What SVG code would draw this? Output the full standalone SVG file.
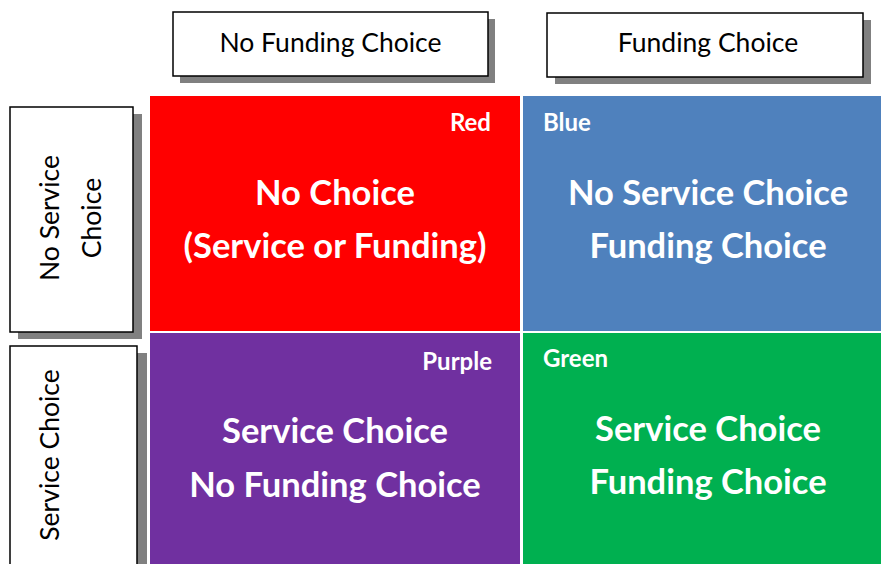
<svg xmlns="http://www.w3.org/2000/svg" width="881" height="564" viewBox="0 0 881 564">
<style>
.sh{fill:#808080}
.box{fill:#fff;stroke:#000;stroke-width:1.5}
.hd{font-family:"Lato","Open Sans",sans-serif;font-size:26.5px;fill:#000;text-anchor:middle}
.big{font-family:"Lato","Open Sans",sans-serif;font-size:34.5px;font-weight:bold;fill:#fff;text-anchor:middle}
.lbl{font-family:"Lato","Open Sans",sans-serif;font-size:24px;font-weight:bold;fill:#fff}
</style>
<rect width="881" height="564" fill="#fff"/>
<g id="hdr-nofunding">
<rect class="sh" x="180" y="19" width="315" height="64"/>
<rect class="box" x="173" y="12" width="315" height="64"/>
<text class="hd" x="330.5" y="52">No Funding Choice</text>
</g>
<g id="hdr-funding">
<rect class="sh" x="555" y="20" width="316" height="64"/>
<rect class="box" x="547" y="13" width="316" height="64"/>
<text class="hd" x="708" y="52">Funding Choice</text>
</g>
<g id="side-noservice">
<rect class="sh" x="18" y="114" width="124" height="225"/>
<rect class="box" x="10" y="107" width="123" height="225"/>
<text class="hd" transform="translate(59,218) rotate(-90)">No Service</text>
<text class="hd" transform="translate(101,218) rotate(-90)">Choice</text>
</g>
<g id="side-service">
<rect class="sh" x="19" y="353" width="128" height="220"/>
<rect class="box" x="10" y="346" width="127" height="225"/>
<text class="hd" transform="translate(59,455) rotate(-90)">Service Choice</text>
</g>
<g id="cell-red">
<rect x="150" y="96" width="370" height="235" fill="#FF0000"/>
<text class="lbl" x="491" y="131" text-anchor="end">Red</text>
<text class="big" x="335" y="205">No Choice</text>
<text class="big" x="335" y="258">(Service or Funding)</text>
</g>
<g id="cell-blue">
<rect x="523" y="96" width="358" height="235" fill="#4F81BD"/>
<text class="lbl" x="543" y="131">Blue</text>
<text class="big" x="708" y="205">No Service Choice</text>
<text class="big" x="708" y="258">Funding Choice</text>
</g>
<g id="cell-purple">
<rect x="150" y="333" width="370" height="231" fill="#7030A0"/>
<text class="lbl" x="492" y="370" text-anchor="end">Purple</text>
<text class="big" x="335" y="443">Service Choice</text>
<text class="big" x="335" y="497">No Funding Choice</text>
</g>
<g id="cell-green">
<rect x="523" y="333" width="358" height="231" fill="#00B050"/>
<text class="lbl" x="543" y="367">Green</text>
<text class="big" x="708" y="441">Service Choice</text>
<text class="big" x="708" y="494">Funding Choice</text>
</g>
<g id="connectors"/>
</svg>
